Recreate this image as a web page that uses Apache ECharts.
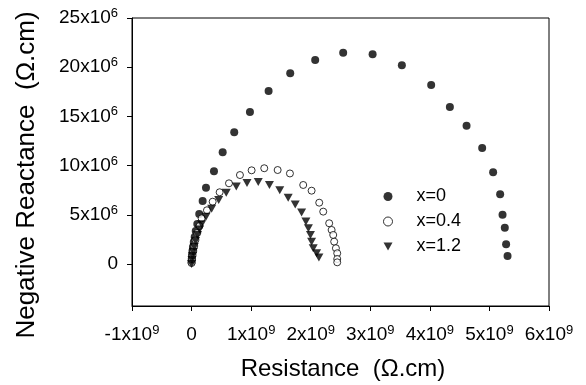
<!DOCTYPE html>
<html>
<head>
<meta charset="utf-8">
<script src="https://cdn.jsdelivr.net/npm/echarts@6/dist/echarts.min.js"></script>
<style>
html,body{margin:0;padding:0;background:#fff;}
#chart{width:586px;height:385px;}
</style>
</head>
<body>
<div id="chart"></div>
<script>
// Resistance in units of 1e9 ohm.cm, Negative reactance in units of 1e6 ohm.cm
const seriesNames = ['x=0', 'x=0.4', 'x=1.2'];

const r_x0 = [0.000,0.003,0.007,0.015,0.023,0.037,0.052,0.070,0.096,0.129,0.186,0.242,0.376,0.522,0.716,0.980,1.293,1.656,2.075,2.545,3.039,3.530,4.022,4.336,4.616,4.878,5.062,5.180,5.220,5.258,5.280,5.304];
const x_x0 = [0.20,0.51,0.91,1.32,1.73,2.24,2.74,3.35,4.07,5.08,6.40,7.75,9.42,11.35,13.38,15.45,17.58,19.38,20.73,21.47,21.31,20.19,18.19,15.96,14.05,11.79,9.32,7.08,5.01,3.69,2.00,0.81];

const r_x04 = [0.000,0.007,0.017,0.029,0.045,0.065,0.096,0.133,0.169,0.258,0.354,0.471,0.628,0.812,1.008,1.220,1.445,1.651,1.874,2.015,2.143,2.210,2.310,2.351,2.378,2.394,2.423,2.445,2.445,2.445];
const x_x04 = [0.10,0.50,0.91,1.32,1.83,2.44,3.15,3.86,4.64,5.46,6.33,7.29,8.20,9.04,9.52,9.73,9.55,9.20,8.03,7.45,6.23,5.32,4.14,3.46,2.95,2.27,1.60,1.09,0.51,0.17];

const r_x12 = [0.000,0.007,0.017,0.029,0.045,0.067,0.099,0.133,0.169,0.242,0.337,0.455,0.582,0.750,0.930,1.119,1.307,1.480,1.622,1.740,1.847,1.919,1.961,1.995,2.015,2.042,2.099,2.138];
const x_x12 = [0.00,0.41,0.81,1.22,1.73,2.34,2.95,3.51,4.03,4.81,5.62,6.50,7.25,7.88,8.23,8.33,8.03,7.50,6.74,6.05,5.23,4.32,3.63,2.95,2.27,1.60,1.09,0.66];

const xTicks = [-1, 0, 1, 2, 3, 4, 5, 6];
const yTicks = [0, 5, 10, 15, 20, 25];
const xMin = -1, xMax = 6, yMin = -4.27, yMax = 25;

const FONT = '"Liberation Sans", Arial, Helvetica, sans-serif';
const DOWN_TRIANGLE = 'path://M0,0L10,0L5,9Z';

function pairs(a, b) { return a.map((v, i) => [v, b[i]]); }

function fmt(exp) {
  return function (v) {
    if (v === 0) return '{a|0}';
    return '{a|' + v + 'x10}{s|' + exp + '}';
  };
}
const rich = {
  a: { fontSize: 19, lineHeight: 22, color: '#000', fontFamily: FONT },
  s: { fontSize: 13, lineHeight: 13, verticalAlign: 'top', color: '#000', fontFamily: FONT }
};

const chart = echarts.init(document.getElementById('chart'), null, { renderer: 'canvas' });
chart.setOption({
  animation: false,
  backgroundColor: '#fff',
  grid: { left: 132, right: 37, top: 18, bottom: 79, show: true, borderColor: '#000', borderWidth: 1, backgroundColor: 'transparent' },
  xAxis: {
    type: 'value', min: xMin, max: xMax, interval: 1,
    axisLine: { show: true, onZero: false, lineStyle: { color: '#000', width: 1 } },
    axisTick: { show: true, inside: false, length: 5, lineStyle: { color: '#000' }, customValues: xTicks },
    axisLabel: { margin: 18, formatter: fmt('9'), rich: rich, customValues: xTicks },
    splitLine: { show: false }
  },
  yAxis: {
    type: 'value', min: yMin, max: yMax,
    axisLine: { show: true, onZero: false, lineStyle: { color: '#000', width: 1 } },
    axisTick: { show: true, inside: false, length: 5, lineStyle: { color: '#000' }, customValues: yTicks },
    axisLabel: { margin: 14, formatter: fmt('6'), rich: rich, customValues: yTicks },
    splitLine: { show: false }
  },
  legend: {
    orient: 'vertical', left: 378, top: 182, itemGap: 6,
    itemWidth: 9, itemHeight: 9,
    textStyle: { fontSize: 18, lineHeight: 19, fontFamily: FONT, color: '#000', padding: [0, 0, 0, 19] },
    data: [
      { name: seriesNames[0], icon: 'circle' },
      { name: seriesNames[1], icon: 'circle', itemStyle: { color: '#fff', borderColor: '#000', borderWidth: 1 } },
      { name: seriesNames[2], icon: DOWN_TRIANGLE }
    ]
  },
  graphic: [
    { type: 'text', x: 27, y: 175, rotation: Math.PI / 2,
      style: { text: 'Negative Reactance  (\u03A9.cm)', font: '26px ' + FONT, fill: '#000', textAlign: 'center', textVerticalAlign: 'middle' } },
    { type: 'text', x: 343, y: 369,
      style: { text: 'Resistance  (\u03A9.cm)', font: '24px ' + FONT, fill: '#000', textAlign: 'center', textVerticalAlign: 'middle' } }
  ],
  series: [
    { name: seriesNames[0], type: 'scatter', data: pairs(r_x0, x_x0), symbol: 'circle', symbolSize: 8,
      itemStyle: { color: '#000' } },
    { name: seriesNames[1], type: 'scatter', data: pairs(r_x04, x_x04), symbol: 'circle', symbolSize: 7,
      itemStyle: { color: '#fff', borderColor: '#000', borderWidth: 1 } },
    { name: seriesNames[2], type: 'scatter', data: pairs(r_x12, x_x12), symbol: 'triangle', symbolSize: [9, 8], symbolRotate: 180,
      itemStyle: { color: '#000' } }
  ]
});
</script>
</body>
</html>
